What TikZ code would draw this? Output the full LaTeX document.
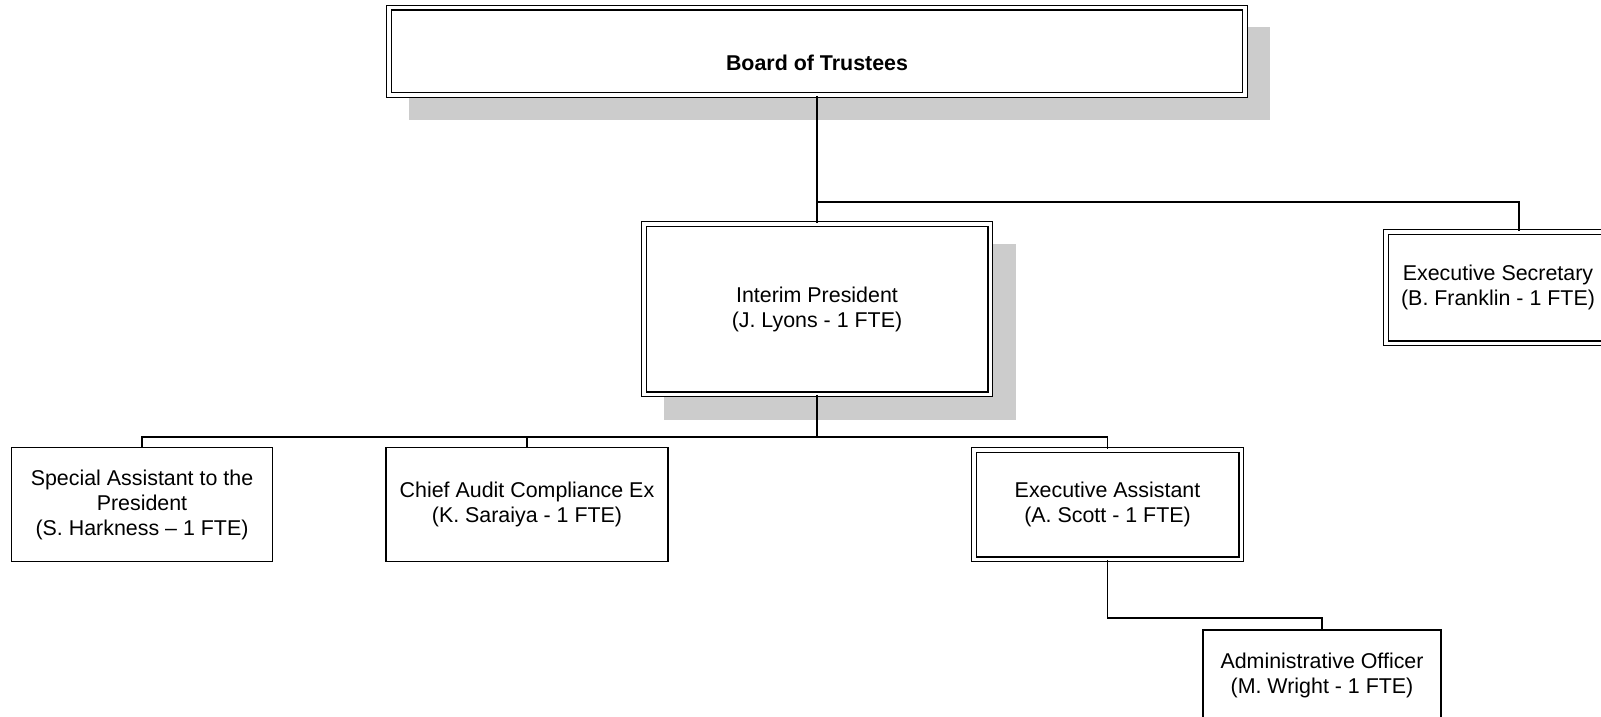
\documentclass[tikz,border=0pt]{standalone}
\usepackage{fontspec}
\setmainfont{Liberation Sans}
\usetikzlibrary{shadows}
\tikzset{
	box/.style={draw, line width=0.6pt, align=center, inner sep=0pt, fill=white, font=\fontsize{10.7}{12.5}\selectfont},
	dbox/.style={box, double, double distance=1.6pt, line width=0.7pt},
	shade/.style={drop shadow={shadow xshift=11.25pt, shadow yshift=-11.25pt, fill=black!20, draw=black!20, line width=2.9pt, opacity=1}},
	link/.style={line width=0.75pt},
}

\begin{document}
\begin{tikzpicture}[x=0.5pt, y=-0.5pt]
			%%%%% START %%%%%
			\useasboundingbox (0, 0) rectangle (1601, 717);
			
			\node[dbox, shade, minimum width=428pt, minimum height=43.6pt, text height=19.2pt, text depth=0pt] (board) at (817, 51.5) {\textbf{Board of Trustees}};
			
			\node[dbox, shade, minimum width=173.1pt, minimum height=85.1pt] (pres) at (817, 309) {Interim President\\(J. Lyons - 1 FTE)};
			\node[dbox, minimum width=112pt, minimum height=55.6pt] (exsec) at (1498, 287.5) {Executive Secretary\\(B. Franklin - 1 FTE)};
			
			\node[box, minimum width=130.5pt, minimum height=57pt] (spec) at (142, 504.5) {Special Assistant to the\\President\\(S. Harkness -- 1 FTE)};
			\node[box, minimum width=141pt, minimum height=57pt] (audit) at (527, 504.5) {Chief Audit Compliance Ex\\(K. Saraiya - 1 FTE)};
			\node[dbox, minimum width=133.6pt, minimum height=54.6pt] (exasst) at (1107.5, 504.5) {Executive Assistant\\(A. Scott - 1 FTE)};
			
			\node[box, minimum width=119pt, minimum height=45pt] (admin) at (1322, 675) {Administrative Officer\\(M. Wright - 1 FTE)};
			
			\coordinate (top) at (817, 202);
			\coordinate (mid) at (817, 437);
			\coordinate (low) at (1107.5, 618);
			
			\draw[link] (board.south) -- (pres.north);
			\draw[link] (top) -| ([xshift=10.5pt]exsec.north);
			\draw[link] (pres.south) -- (mid);
			\draw[link] (mid) -| (spec.north);
			\draw[link] (mid) -| (audit.north);
			\draw[link] (mid) -| (exasst.north);
			\draw[link] (exasst.south) -- (low) -| (admin.north);
			
			%%%%% END %%%%%
\end{tikzpicture}
\end{document}
